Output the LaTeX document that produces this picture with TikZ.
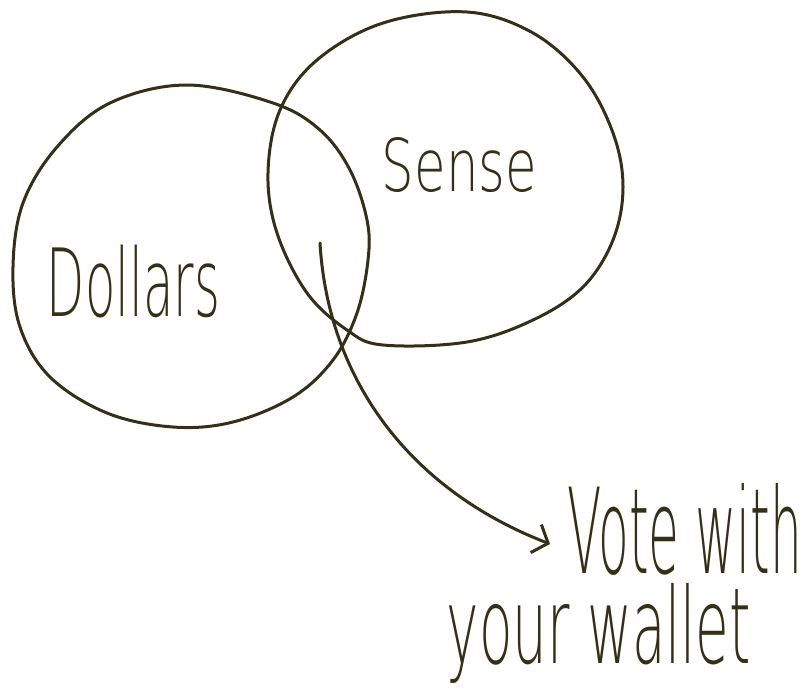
\documentclass[tikz,border=0pt]{standalone}
\usepackage{fontspec}
\usetikzlibrary{arrows.meta}
\newfontfamily\hand{DejaVu Sans ExtraLight}
\definecolor{ink}{RGB}{52,48,24}
\begin{document}
\begin{tikzpicture}[x=1pt,y=-1pt,
  venn/.style={draw=ink, line width=3pt, line join=round},
  conn/.style={draw=ink, line width=3pt, line cap=round,
    -{Straight Barb[length=13pt,width=30pt,line width=3pt]}},
  lbl/.style={inner sep=0pt, text=ink, font=\hand}]
\useasboundingbox (0,0) rectangle (811,690);
% left circle (Dollars)
\draw[venn] plot[smooth cycle, tension=0.6] coordinates {
  (187,85) (273,103) (320,130) (350,170) (367,220) (368,260) (357,313)
  (333,360) (293,397) (233,422) (173,427) (107,413) (50,377) (20,327)
  (13,267) (23,203) (57,147) (110,103)};
% right circle (Sense)
\draw[venn] plot[smooth cycle, tension=0.6] coordinates {
  (467,12) (533,33) (583,77) (613,133) (623,187) (613,240) (583,287)
  (533,320) (467,342) (383,345) (347,330) (307,293) (277,233) (268,173)
  (280,110) (317,60) (383,23)};
\node[lbl] (dollars) at (133.5,281.5) {\resizebox*{173pt}{73pt}{Dollars}};
\node[lbl] (sense) at (459.5,165.5) {\resizebox*{155pt}{55pt}{Sense}};
\node[lbl] (vote) at (685,529) {\resizebox*{234pt}{92pt}{Vote with}};
\node[lbl] (wallet) at (599,633) {\resizebox*{304pt}{100pt}{your wallet}};
\coordinate (start) at (320,243);
\coordinate (tip) at (550,544);
\draw[conn] (start) .. controls (328,380) and (410,490) .. (tip);
\end{tikzpicture}
\end{document}
